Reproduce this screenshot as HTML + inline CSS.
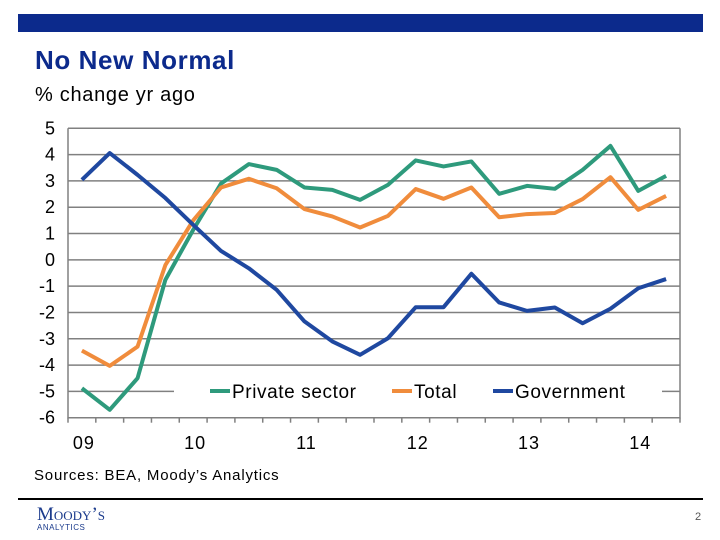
<!DOCTYPE html>
<html><head><meta charset="utf-8"><style>
body{margin:0;width:720px;height:540px;background:#fff;position:relative;overflow:hidden;font-family:"Liberation Sans",sans-serif}
.a{position:absolute;white-space:nowrap}
</style></head><body>
<div class="a" style="left:18px;top:14px;width:685px;height:18px;background:#0c2a8c"></div>
<div class="a" style="left:35px;top:45px;font-size:26px;letter-spacing:0.6px;font-weight:bold;color:#0c2a8c">No New Normal</div>
<div class="a" style="left:35px;top:84px;font-size:20px;letter-spacing:0.7px;color:#000">% change yr ago</div>
<svg class="a" style="left:0;top:0" width="720" height="540">
<g id="grid"></g><g id="lines"></g><g id="axes"></g><g id="legend"></g>
</svg>
<div class="a" style="left:34px;top:467px;font-size:15px;letter-spacing:0.8px;color:#000">Sources: BEA, Moody’s Analytics</div>
<div class="a" style="left:18px;top:498px;width:685px;height:2px;background:#000"></div>
<div class="a" style="left:37px;top:504px;font-family:'Liberation Serif',serif;font-size:19px;color:#1a3a8c;font-variant:small-caps">Moody’s</div>
<div class="a" style="left:37px;top:523px;font-size:8px;color:#1a3a8c;letter-spacing:0.5px">ANALYTICS</div>
<div class="a" style="left:695px;top:511px;font-size:11px;color:#555">2</div>
<script>
const yearLabels=["09","10","11","12","13","14"];
const yTicks=[5,4,3,2,1,0,-1,-2,-3,-4,-5,-6];
const privateSector=[-4.88,-5.7,-4.5,-0.76,1.14,2.9,3.64,3.42,2.75,2.66,2.28,2.85,3.78,3.55,3.74,2.51,2.81,2.7,3.42,4.33,2.62,3.19];
const total=[-3.45,-4.03,-3.3,-0.2,1.5,2.75,3.08,2.72,1.93,1.65,1.23,1.67,2.69,2.32,2.75,1.62,1.74,1.78,2.31,3.14,1.9,2.43];
const government=[3.04,4.06,3.23,2.35,1.33,0.34,-0.32,-1.14,-2.34,-3.1,-3.61,-2.98,-1.8,-1.8,-0.53,-1.62,-1.94,-1.81,-2.41,-1.86,-1.08,-0.73];
const NS="http://www.w3.org/2000/svg";
const L=68,R=680,T=128.3,B=417.7,n=privateSector.length,step=(R-L)/n;
const x=i=>L+step*(i+0.5);
const y=v=>T+(5-v)*(B-T)/11;
function mk(tag,attrs,parent){const e=document.createElementNS(NS,tag);for(const k in attrs)e.setAttribute(k,attrs[k]);document.getElementById(parent).appendChild(e);return e;}
yTicks.forEach(v=>{
  if(v>-6){const g=mk('line',{x1:L,x2:R,y1:y(v),y2:y(v),stroke:'#808080','stroke-width':1.5},'grid');
  
  }
  const t=mk('text',{x:55,y:y(v)+6,'text-anchor':'end','font-size':18,fill:'#000'},'axes');t.textContent=v;
  
  
});
const ax=mk('path',{d:`M${L} ${T}V${B}H${R}V${T}`,fill:'none',stroke:'#808080','stroke-width':1.5},'axes');


for(let i=0;i<=n;i++){const tk=mk('line',{x1:L+step*i,x2:L+step*i,y1:B,y2:B+5,stroke:'#808080','stroke-width':1.5},'axes');
  
  }
yearLabels.forEach((lab,k)=>{const t=mk('text',{x:x(k*4)+2,y:449,'text-anchor':'middle','font-size':18,'letter-spacing':1,fill:'#000'},'axes');t.textContent=lab;
  
  });
const series=[[privateSector,'#2e9a7c','private-sector-line'],[total,'#f08c3c','total-line'],[government,'#1f48a0','government-line']];
series.forEach(([d,c,nm])=>{const p=mk('polyline',{points:d.map((v,i)=>x(i)+','+y(v)).join(' '),fill:'none',stroke:c,'stroke-width':4,'stroke-linejoin':'round'},'lines');
  
  });
const bg=mk('rect',{x:174,y:378,width:488,height:26,fill:'#fff'},'legend');


[['Private sector',210,'#2e9a7c'],['Total',392,'#f08c3c'],['Government',493,'#1f48a0']].forEach(([t,lx,c])=>{
  const s=mk('line',{x1:lx,x2:lx+20,y1:391,y2:391,stroke:c,'stroke-width':4},'legend');
  
  
  const tx=mk('text',{x:lx+22,y:398,'font-size':19,'letter-spacing':0.6,fill:'#000'},'legend');tx.textContent=t;
  
  
});
</script>
</body></html>
